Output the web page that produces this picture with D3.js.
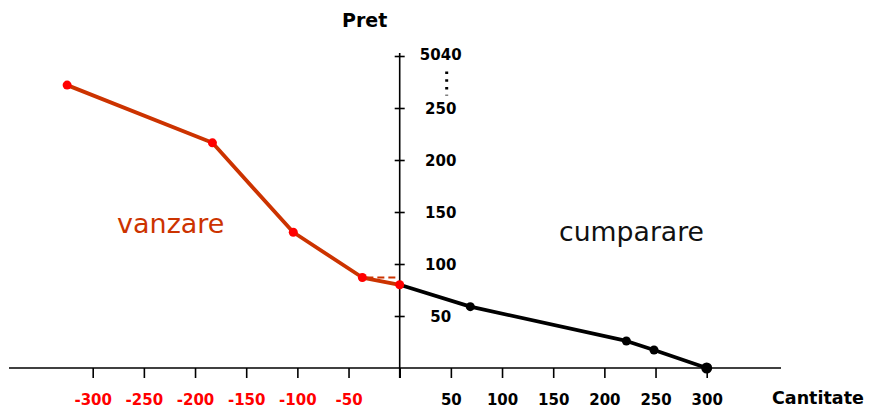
<!DOCTYPE html>
<html>
<head>
<meta charset="utf-8">
<script src="https://cdn.jsdelivr.net/npm/d3@7"></script>
<style>
  body { margin: 0; background: #fff; }
  svg { display: block; font-family: "DejaVu Sans", Verdana, sans-serif; }
</style>
</head>
<body>
<div id="chart"></div>
<script>
// sell side (vanzare) - quantity, price
var sellQty = [-325, -183, -104, -36.5, 0];
var sellPrice = [272, 216.5, 130.5, 87, 80];
// buy side (cumparare)
var buyQty = [0, 69, 221.5, 248.5, 300];
var buyPrice = [80, 59, 26, 17.3, 0];

var xTicksNeg = [-300, -250, -200, -150, -100, -50];
var xTicksPos = [50, 100, 150, 200, 250, 300];
var yTicks = [50, 100, 150, 200, 250, 300];
var yTickLabels = ["50", "100", "150", "200", "250", "5040"];

var width = 875, height = 407;
var sellColor = "#cc3300";

var svg = d3.select("#chart").append("svg")
  .attr("width", width)
  .attr("height", height);

var x = d3.scaleLinear().domain([-300, 300]).range([92.7, 706.7]);
var y = d3.scaleLinear().domain([0, 300]).range([368, 56]);

// x axis
svg.append("line")
  .attr("x1", 9).attr("x2", 781)
  .attr("y1", y(0)).attr("y2", y(0))
  .attr("stroke", "#000").attr("stroke-width", 1.6);

var xAxis = svg.append("g")
  .attr("transform", "translate(0," + y(0) + ")")
  .call(d3.axisBottom(x)
    .tickValues(xTicksNeg.concat([0], xTicksPos))
    .tickSize(10)
    .tickFormat(function(d) { return d === 0 ? "" : d; }));
xAxis.select(".domain").remove();
xAxis.selectAll(".tick line").attr("stroke", "#000").attr("stroke-width", 1.6);
xAxis.selectAll(".tick text")
  .attr("y", 36.5).attr("dy", 0)
  .style("font-family", "DejaVu Sans")
  .style("font-size", "15px")
  .style("font-weight", "bold")
  .attr("fill", function(d) { return d < 0 ? "#ff0000" : "#000"; });

// y axis
svg.append("line")
  .attr("x1", x(0)).attr("x2", x(0))
  .attr("y1", 53).attr("y2", 378)
  .attr("stroke", "#000").attr("stroke-width", 1.6);

var yAxis = svg.append("g")
  .attr("transform", "translate(" + x(0) + ",0)")
  .call(d3.axisRight(y)
    .tickValues(yTicks)
    .tickSize(5)
    .tickFormat(function(d, i) { return yTickLabels[i]; }));
yAxis.select(".domain").remove();
yAxis.selectAll(".tick line")
  .attr("x1", -5).attr("x2", 5)
  .attr("stroke", "#000").attr("stroke-width", 1.6);
yAxis.selectAll(".tick text")
  .attr("x", 41).attr("dy", "0.35em")
  .attr("text-anchor", "middle")
  .style("font-family", "DejaVu Sans")
  .style("font-size", "15px")
  .style("font-weight", "bold")
  .attr("fill", "#000");
yAxis.selectAll(".tick text").filter(function(d) { return d === 300; })
  .attr("dy", "0.2em");

// vertical dots marking the broken scale
svg.append("line")
  .attr("x1", x(0) + 47).attr("x2", x(0) + 47)
  .attr("y1", y(285)).attr("y2", y(262))
  .attr("stroke", "#000").attr("stroke-width", 3)
  .attr("stroke-dasharray", "2.5,5.2");

// axis titles
svg.append("text")
  .attr("x", 342).attr("y", 27)
  .style("font-size", "19px").style("font-weight", "bold")
  .text("Pret");
svg.append("text")
  .attr("x", 772).attr("y", 404)
  .style("font-size", "17.5px").style("font-weight", "bold")
  .text("Cantitate");

var line = d3.line()
  .x(function(d) { return x(d[0]); })
  .y(function(d) { return y(d[1]); });

var sell = d3.zip(sellQty, sellPrice);
var buy = d3.zip(buyQty, buyPrice);

// dashed guide from the last sell step to the price axis
var guide = sell[sell.length - 2];
svg.append("line")
  .attr("x1", x(guide[0]) + 4).attr("x2", x(0) - 2)
  .attr("y1", y(guide[1])).attr("y2", y(guide[1]))
  .attr("stroke", sellColor).attr("stroke-width", 2)
  .attr("stroke-dasharray", "7,4");

svg.append("path")
  .datum(buy)
  .attr("d", line)
  .attr("fill", "none")
  .attr("stroke", "#000")
  .attr("stroke-width", 3.8)
  .attr("stroke-linejoin", "round");

svg.append("path")
  .datum(sell)
  .attr("d", line)
  .attr("fill", "none")
  .attr("stroke", sellColor)
  .attr("stroke-width", 3.8)
  .attr("stroke-linejoin", "round");

svg.selectAll(".buydot")
  .data(buy.slice(1))
  .enter()
  .append("circle")
    .attr("class", "buydot")
    .attr("cx", function(d) { return x(d[0]); })
    .attr("cy", function(d) { return y(d[1]); })
    .attr("r", function(d, i) { return i === buy.length - 2 ? 5.5 : 4.5; })
    .attr("fill", "#000");

svg.selectAll(".selldot")
  .data(sell)
  .enter()
  .append("circle")
    .attr("class", "selldot")
    .attr("cx", function(d) { return x(d[0]); })
    .attr("cy", function(d) { return y(d[1]); })
    .attr("r", 4.5)
    .attr("fill", "#ff0000");

// side labels
svg.append("text")
  .attr("x", 117).attr("y", 233)
  .style("font-size", "27px")
  .attr("fill", sellColor)
  .text("vanzare");
svg.append("text")
  .attr("x", 559).attr("y", 241)
  .style("font-size", "26.7px")
  .attr("fill", "#111")
  .text("cumparare");
</script>
</body>
</html>
